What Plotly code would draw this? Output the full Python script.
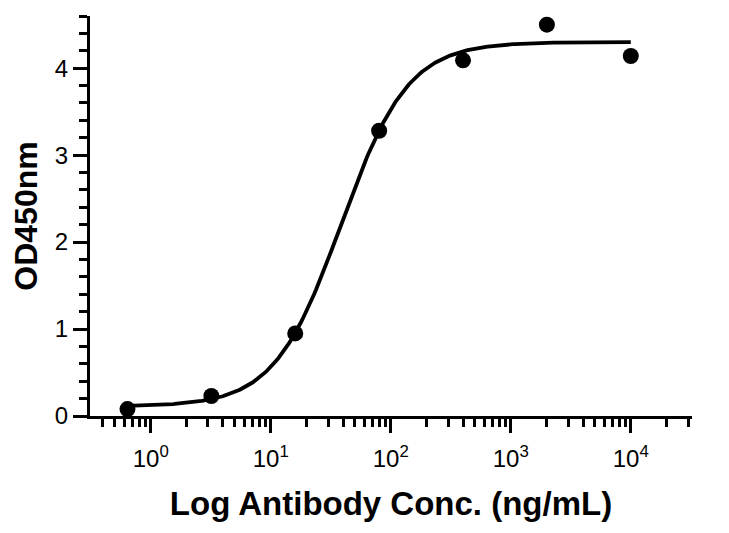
import numpy as np
import plotly.graph_objects as go

# Data
conc = [0.64, 3.2, 16, 80, 400, 2000, 10000]
od450 = [0.08, 0.23, 0.95, 3.28, 4.09, 4.50, 4.14]

# 4PL fit parameters (estimated from curve)
fit_bottom = 0.11
fit_top = 4.30
fit_ec50 = 38.6
fit_hill = 1.56

x_tick_vals = [1, 10, 100, 1000, 10000]
x_tick_text = ["10<sup>0</sup>", "10<sup>1</sup>", "10<sup>2</sup>", "10<sup>3</sup>", "10<sup>4</sup>"]
y_tick_vals = [0, 1, 2, 3, 4]

xf = np.logspace(np.log10(conc[0]), np.log10(conc[-1]), 300)
yf = fit_bottom + (fit_top - fit_bottom) / (1 + (fit_ec50 / xf) ** fit_hill)

font_family = "Liberation Sans, Arial, sans-serif"

fig = go.Figure()
fig.add_trace(go.Scatter(x=xf, y=yf, mode="lines",
                         line=dict(color="black", width=3.8), showlegend=False,
                         hoverinfo="skip"))
fig.add_trace(go.Scatter(x=conc, y=od450, mode="markers",
                         marker=dict(color="black", size=16), showlegend=False))

fig.update_layout(
    width=729, height=533,
    margin=dict(l=82, r=45, t=8, b=125),
    plot_bgcolor="white", paper_bgcolor="white",
    font=dict(family=font_family, color="black", size=22),
)
fig.update_xaxes(
    type="log", range=[-0.506, 4.51], automargin=False,
    showgrid=False, zeroline=False,
    showline=True, linecolor="black", linewidth=3,
    ticks="outside", ticklen=14, tickwidth=3, tickcolor="black",
    tickvals=x_tick_vals, ticktext=x_tick_text,
    tickfont=dict(size=24), ticklabelstandoff=5,
    minor=dict(ticks="outside", ticklen=8, tickwidth=3, tickcolor="black", dtick="D1", showgrid=False),
    title=dict(text="Log Antibody Conc. (ng/mL)", font=dict(size=33, weight="bold"), standoff=22),
)
fig.update_yaxes(
    range=[0, 4.6], automargin=False,
    showgrid=False, zeroline=False,
    showline=True, linecolor="black", linewidth=3,
    ticks="outside", ticklen=14, tickwidth=3, tickcolor="black",
    tickvals=y_tick_vals,
    tickfont=dict(size=24),
    minor=dict(ticks="outside", ticklen=8, tickwidth=3, tickcolor="black", dtick=0.2, showgrid=False),
    title=dict(text="OD450nm", font=dict(size=32, weight="bold"), standoff=10),
)

fig.write_html("out.html")
